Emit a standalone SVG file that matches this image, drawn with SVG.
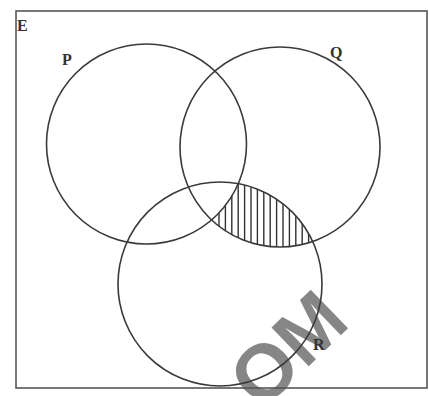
<svg xmlns="http://www.w3.org/2000/svg" width="429" height="396" viewBox="0 0 429 396">
<style>
.set{fill:none;stroke:#3a3a3a;stroke-width:1.6}
.lbl{font-family:"Liberation Serif",serif;font-weight:bold;font-size:16px;fill:#333}
.hatch{stroke:#333;stroke-width:1.4}
</style>
<defs>
<clipPath id="cQ"><circle cx="280" cy="147" r="100"/></clipPath>
<clipPath id="cR"><circle cx="220" cy="284" r="102"/></clipPath>
<mask id="notP"><rect x="0" y="0" width="429" height="396" fill="#fff"/><circle cx="146.5" cy="144" r="100" fill="#000"/></mask>
</defs>
<rect width="429" height="396" fill="#fff"/>
<text transform="translate(287,348) rotate(-44)" x="0" y="28" text-anchor="middle" font-family="Liberation Sans,sans-serif" font-weight="bold" font-size="78" fill="#7a7a7a" opacity="0.9">OM</text>
<g id="E"><rect x="16" y="11" width="411" height="377" fill="none" stroke="#555" stroke-width="1.6"/><text class="lbl" x="17" y="31">E</text></g>
<g id="hatching" clip-path="url(#cQ)"><g clip-path="url(#cR)"><g mask="url(#notP)">
<path class="hatch" d="M219 170V260M225.4 170V260M231.8 170V260M238.2 170V260M244.6 170V260M251 170V260M257.4 170V260M263.8 170V260M270.2 170V260M276.6 170V260M283 170V260M289.4 170V260M295.8 170V260M302.2 170V260M308.6 170V260"/>
</g></g></g>
<g id="P"><circle class="set" cx="146.5" cy="144" r="100"/><text class="lbl" x="62" y="65">P</text></g>
<g id="Q"><circle class="set" cx="280" cy="147" r="100"/><text class="lbl" x="330" y="58">Q</text></g>
<g id="R"><circle class="set" cx="220" cy="284" r="102"/><text class="lbl" x="313" y="350">R</text></g>
<g id="connectors"/>
</svg>
